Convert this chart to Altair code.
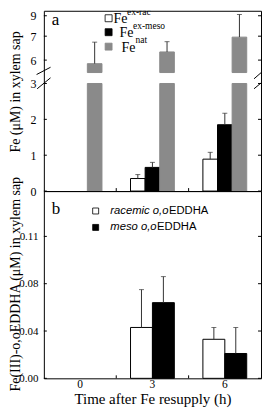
import altair as alt
import pandas as pd

# ---------------- data ----------------
times = ["0", "3", "6"]

fe_series = ["ex-rac", "ex-meso", "nat"]
fe_rac = [0.0, 0.35, 0.89]
fe_rac_top = [None, 0.46, 1.08]
fe_meso = [0.0, 0.66, 1.85]
fe_meso_top = [None, 0.80, 2.17]
fe_nat = [5.85, 6.34, 6.96]
fe_nat_top = [6.75, 6.77, 9.1]

chel_series = ["racemic o,o", "meso o,o"]
chel_rac = [0.0, 0.043, 0.033]
chel_rac_top = [None, 0.075, 0.043]
chel_meso = [0.0, 0.064, 0.021]
chel_meso_top = [None, 0.086, 0.043]

ya_ticks = [0, 1, 2, 3, 6, 7, 9]
yb_ticks = [0, 0.04, 0.08, 0.12]
yb_labels = ["0.00", "0.04", "0.08", "0.11"]

fe_colors = ["white", "black", "#8a8a8a"]
fe_strokes = ["black", "black", "#8a8a8a"]
chel_colors = ["white", "black"]

BREAK_LO, BREAK_HI = 3, 5.48
W, HA, HB = 218, 181, 188
SERIF = "Liberation Serif"
SANS = "Liberation Sans"

rows_a = []
for i, t in enumerate(times):
    for s, vals, tops in zip(fe_series, [fe_rac, fe_meso, fe_nat],
                             [fe_rac_top, fe_meso_top, fe_nat_top]):
        rows_a.append({"t": t, "s": s, "v": vals[i], "top": tops[i]})
dfa = pd.DataFrame(rows_a)

rows_b = []
for i, t in enumerate(times):
    for s, vals, tops in zip(chel_series, [chel_rac, chel_meso],
                             [chel_rac_top, chel_meso_top]):
        rows_b.append({"t": t, "s": s, "v": vals[i], "top": tops[i]})
dfb = pd.DataFrame(rows_b)

one = pd.DataFrame({"k": [0]})

# ---------------- scales / axes ----------------
x_scale = alt.Scale(domain=times, paddingInner=0, paddingOuter=0)
ya_scale = alt.Scale(domain=[0, BREAK_LO, BREAK_HI, 7, 9, 9.4],
                     range=[HA, 73, 62, 25.5, 5, 0], nice=False, zero=False)
yb_scale = alt.Scale(domain=[0, HB / 1187.5], nice=False, zero=False)

ya_axis = alt.Axis(values=ya_ticks, ticks=False, domain=False, grid=False,
                   labelPadding=8, labelFontSize=12,
                   title="Fe (\u03bcM) in xylem sap", titleFontSize=14,
                   titleX=-28, titleY=81, titleAngle=270,
                   titleAlign="center", titleBaseline="middle")

expr = "'" + yb_labels[-1] + "'"
for v, lab in reversed(list(zip(yb_ticks[:-1], yb_labels[:-1]))):
    expr = f"datum.value == {v} ? '{lab}' : " + expr
yb_axis = alt.Axis(values=yb_ticks, ticks=False, domain=False, grid=False,
                   labelPadding=6, labelFontSize=11, labelExpr=expr,
                   title="Fe(III)-o,oEDDHA (\u03bcM) in xylem sap", titleFontSize=14,
                   titleX=-28, titleY=93, titleAngle=270,
                   titleAlign="center", titleBaseline="middle")

xb_axis = alt.Axis(ticks=False, domain=False, labelAngle=0, labelFontSize=11.5,
                   labelBaseline="alphabetic", labelPadding=9.5,
                   title="Time after Fe resupply (h)", titleFontSize=15,
                   titleBaseline="alphabetic", titleY=25.5)

# ---------------- panel a ----------------
xa = alt.X("t:N", scale=x_scale, axis=None)
xoa = alt.XOffset("s:N", scale=alt.Scale(domain=fe_series, paddingInner=0, paddingOuter=0.977))
color_a = alt.Color("s:N", scale=alt.Scale(domain=fe_series, range=fe_colors), legend=None)
stroke_a = alt.Stroke("s:N", scale=alt.Scale(domain=fe_series, range=fe_strokes), legend=None)

base_a = alt.Chart(dfa)
bars_lo = base_a.transform_filter("datum.v > 0").transform_calculate(
    lo=f"min(datum.v, {BREAK_LO})").mark_bar(strokeWidth=1).encode(
    x=xa, xOffset=xoa,
    y=alt.Y("lo:Q", scale=ya_scale, axis=ya_axis), y2=alt.datum(0),
    color=color_a, stroke=stroke_a)
bars_hi = base_a.transform_filter(f"datum.v > {BREAK_LO}").mark_bar(strokeWidth=1).encode(
    x=xa, xOffset=xoa,
    y=alt.Y("v:Q", scale=ya_scale, axis=ya_axis), y2=alt.datum(BREAK_HI),
    color=color_a, stroke=stroke_a)
err_a = base_a.transform_filter("isValid(datum.top)").mark_rule(color="#333", strokeWidth=1).encode(
    x=xa, xOffset=xoa, y=alt.Y("v:Q", scale=ya_scale, axis=ya_axis), y2="top:Q")
cap_a = base_a.transform_filter("isValid(datum.top)").mark_tick(
    orient="horizontal", size=5, thickness=1, color="#333").encode(
    x=xa, xOffset=xoa, y=alt.Y("top:Q", scale=ya_scale, axis=ya_axis))

tick_a = pd.DataFrame({"v": ya_ticks})
tl_a = alt.Chart(tick_a).mark_rule(color="black").encode(
    y=alt.Y("v:Q", scale=ya_scale, axis=ya_axis), x=alt.value(0), x2=alt.value(3))
tr_a = alt.Chart(tick_a).mark_rule(color="black").encode(
    y=alt.Y("v:Q", scale=ya_scale, axis=ya_axis), x=alt.value(W - 3), x2=alt.value(W))
tb_a = alt.Chart(pd.DataFrame({"t": times[1:]})).mark_rule(color="black").encode(
    x=alt.X("t:N", scale=x_scale, bandPosition=0, axis=None),
    y=alt.value(HA - 3), y2=alt.value(HA))

layers_a = [bars_lo, bars_hi, err_a, cap_a, tl_a, tr_a, tb_a]

# axis-break slashes (right ones clipped to the frame so the page does not overflow)
for (x0, y0, x1, y1, clip) in [(-7.3, 64, 6.7, 56.7, False), (-6.7, 78.3, 6.7, 67.3, False),
                               (W - 7, 68.3, W + 6.3, 56.7, True),
                               (W - 7, 78.3, W + 6.3, 67.3, True)]:
    layers_a.append(alt.Chart(one).mark_rule(color="black", strokeWidth=1, clip=clip).encode(
        x=alt.value(x0), y=alt.value(y0), x2=alt.value(x1), y2=alt.value(y1)))

layers_a.append(alt.Chart(one).mark_text(font=SERIF, fontSize=17, align="left",
                                         baseline="alphabetic").encode(
    x=alt.value(8), y=alt.value(14), text=alt.value("a")))

# legend a (symbols, "Fe" and superscripts)
sup_texts = ["ex-rac", "ex-meso", "nat"]
leg_a_rows = [7.5, 21.5, 36]
fe_x = [70, 76, 78]
sup_x = [83.5, 89.5, 92]
for i, s in enumerate(sup_texts):
    layers_a.append(alt.Chart(one).mark_square(size=49, opacity=1, filled=True,
                                               fill=fe_colors[i], stroke=fe_strokes[i],
                                               strokeWidth=0.8).encode(
        x=alt.value(65), y=alt.value(leg_a_rows[i])))
    layers_a.append(alt.Chart(one).mark_text(font=SERIF, fontSize=14, align="left",
                                             baseline="middle", clip=True).encode(
        x=alt.value(fe_x[i]), y=alt.value(leg_a_rows[i] + 1), text=alt.value("Fe")))
    layers_a.append(alt.Chart(one).mark_text(font=SERIF, fontSize=9.5, align="left",
                                             baseline="alphabetic", clip=True).encode(
        x=alt.value(sup_x[i]), y=alt.value(leg_a_rows[i] - 3.5), text=alt.value(s)))

panel_a = alt.layer(*layers_a).properties(width=W, height=HA)

# ---------------- panel b ----------------
xb = alt.X("t:N", scale=x_scale, axis=xb_axis)
xob = alt.XOffset("s:N", scale=alt.Scale(domain=chel_series, paddingInner=0, paddingOuter=0.652))
color_b = alt.Color("s:N", scale=alt.Scale(domain=chel_series, range=chel_colors), legend=None)
base_b = alt.Chart(dfb)
bars_b = base_b.transform_filter("datum.v > 0").mark_bar(stroke="black", strokeWidth=1).encode(
    x=xb, xOffset=xob, y=alt.Y("v:Q", scale=yb_scale, axis=yb_axis), color=color_b)
err_b = base_b.transform_filter("isValid(datum.top)").mark_rule(color="#333", strokeWidth=1).encode(
    x=xb, xOffset=xob, y=alt.Y("v:Q", scale=yb_scale, axis=yb_axis), y2="top:Q")
cap_b = base_b.transform_filter("isValid(datum.top)").mark_tick(
    orient="horizontal", size=5, thickness=1, color="#333").encode(
    x=xb, xOffset=xob, y=alt.Y("top:Q", scale=yb_scale, axis=yb_axis))

tick_b = pd.DataFrame({"v": yb_ticks})
tl_b = alt.Chart(tick_b).mark_rule(color="black").encode(
    y=alt.Y("v:Q", scale=yb_scale, axis=yb_axis), x=alt.value(0), x2=alt.value(3))
tr_b = alt.Chart(tick_b).mark_rule(color="black").encode(
    y=alt.Y("v:Q", scale=yb_scale, axis=yb_axis), x=alt.value(W - 3), x2=alt.value(W))
tb_b = alt.Chart(pd.DataFrame({"t": times[1:]})).mark_rule(color="black").encode(
    x=alt.X("t:N", scale=x_scale, bandPosition=0, axis=xb_axis),
    y=alt.value(HB - 3), y2=alt.value(HB))

layers_b = [bars_b, err_b, cap_b, tl_b, tr_b, tb_b]
layers_b.append(alt.Chart(one).mark_text(font=SERIF, fontSize=17, align="left",
                                         baseline="alphabetic").encode(
    x=alt.value(8), y=alt.value(23), text=alt.value("b")))

# legend b
leg_b_rows = [20, 36.5]
eddha_x = [125.6, 113.7]
for i, s in enumerate(chel_series):
    layers_b.append(alt.Chart(one).mark_square(size=36, opacity=1, filled=True,
                                               fill=chel_colors[i], stroke="black",
                                               strokeWidth=0.8).encode(
        x=alt.value(52), y=alt.value(leg_b_rows[i])))
    layers_b.append(alt.Chart(one).mark_text(font=SANS, fontSize=11.3, fontStyle="italic",
                                             align="left", baseline="middle").encode(
        x=alt.value(66.7), y=alt.value(leg_b_rows[i]), text=alt.value(s)))
    layers_b.append(alt.Chart(one).mark_text(font=SANS, fontSize=11.3, align="left",
                                             baseline="middle").encode(
        x=alt.value(eddha_x[i]), y=alt.value(leg_b_rows[i]), text=alt.value("EDDHA")))

panel_b = alt.layer(*layers_b).properties(width=W, height=HB)

chart = alt.vconcat(panel_a, panel_b, spacing=0, bounds="flush").resolve_scale(
    x="independent", y="independent", color="independent", stroke="independent",
    xOffset="independent"
).properties(padding=0).configure_view(
    stroke="black", strokeWidth=1
).configure_axis(
    labelFont=SERIF, titleFont=SERIF, titleFontWeight="normal",
    labelColor="black", titleColor="black"
)

chart.save("out.html", embed_options={"renderer": "svg", "actions": False})
